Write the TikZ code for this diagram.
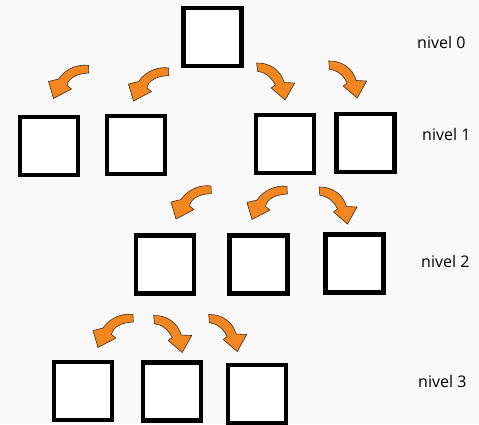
\documentclass[tikz,border=0pt]{standalone}
\usepackage{fontspec}
\setmainfont{Open Sans}
\definecolor{bgcol}{RGB}{249,249,249}
\definecolor{arrorange}{RGB}{242,135,34}
\definecolor{arredge}{RGB}{60,45,30}
\begin{document}
\begin{tikzpicture}[x=1pt,y=-1pt,
  box/.style={draw=black,fill=white,line width=4.5pt,minimum width=58pt,minimum height=58pt,inner sep=0pt},
  lbl/.style={anchor=base west,inner sep=0pt,font=\fontsize{16}{18}\selectfont},
  arrowstyle/.style={fill=arrorange,draw=arredge,line width=0.6pt,line join=round},
  larrow/.pic={\filldraw[arrowstyle] (0,0) .. controls (-9,-1.5) and (-22,2) .. (-30,13.5) -- (-40,16) -- (-35,33) -- (-17,23.5) -- (-21.5,20) .. controls (-20,12) and (-11,8) .. (0.3,7.5) -- cycle;},
  rarrow/.pic={\filldraw[arrowstyle] (0,0) .. controls (12.5,-0.5) and (24,7) .. (27.5,19.5) -- (38,20) -- (28.5,37) -- (14.5,25) -- (18.5,22) .. controls (14.5,13.5) and (7.5,9) .. (0.8,8.2) -- cycle;}
]
\fill[bgcol] (0,0) rectangle (479,424);
\useasboundingbox (0,0) rectangle (479,424);
% level 0
\node[box] (r) at (212.5,37) {};
% level 1
\node[box] (a1) at (49,146) {};
\node[box] (b1) at (136,145) {};
\node[box] (c1) at (285,144) {};
\node[box] (d1) at (365.5,143) {};
% level 2
\node[box] (a2) at (165,264.5) {};
\node[box] (b2) at (258.5,264.5) {};
\node[box] (c2) at (354.5,263.5) {};
% level 3
\node[box] (a3) at (83,391) {};
\node[box] (b3) at (172,391.5) {};
\node[box] (c3) at (257,394) {};
% labels
\node[lbl] (n0) at (417,48) {nivel 0};
\node[lbl] (n1) at (422,140) {nivel 1};
\node[lbl] (n2) at (421,267) {nivel 2};
\node[lbl] (n3) at (418,387.5) {nivel 3};
% arrows level 0 -> 1
\pic at (88.5,65.5) {larrow};
\pic at (168.5,68) {larrow};
\pic at (256.7,63) {rarrow};
\pic at (328.7,61) {rarrow};
% arrows level 1 -> 2
\pic at (211,186) {larrow};
\pic at (287,186.5) {larrow};
\pic at (319,187) {rarrow};
% arrows level 2 -> 3
\pic at (133,314.5) {larrow};
\pic at (153.7,315.5) {rarrow};
\pic at (208.7,314.5) {rarrow};
\end{tikzpicture}
\end{document}
